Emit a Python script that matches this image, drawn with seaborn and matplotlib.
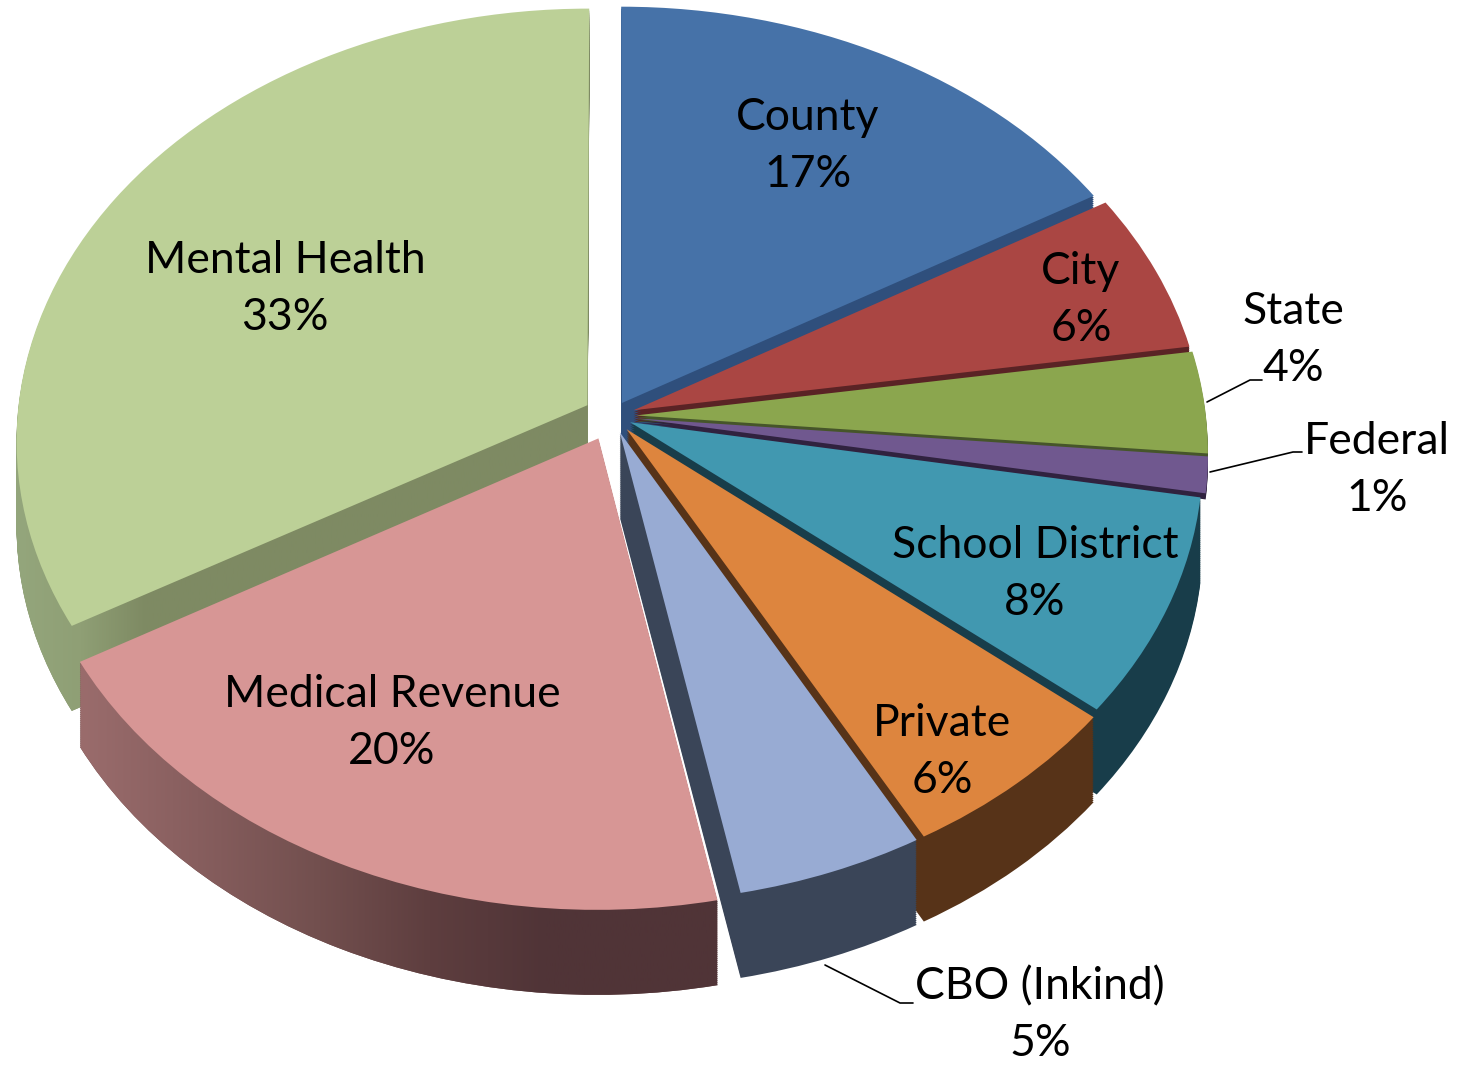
import numpy as np
import seaborn as sns
import matplotlib.pyplot as plt
from matplotlib.path import Path
from matplotlib.transforms import Affine2D, IdentityTransform, Transform

sources = ['County', 'City', 'State', 'Federal', 'School District', 'Private',
           'CBO (Inkind)', 'Medical Revenue', 'Mental Health']
percents = [17, 6, 4, 1, 8, 6, 5, 20, 33]
# slice sizes before rounding, estimated from the angles
slices = [16.6, 6.0, 3.8, 1.35, 8.15, 6.1, 4.9, 19.86, 33.24]
explode = [.035, .04, .042, .042, .035, .04, .04, .057, .05]
top_colors = ['#4672a8', '#aa4643', '#8ba64e', '#70588f', '#4198b0', '#dd853e',
              '#98abd3', '#d79695', '#bcd097']
side_colors = ['#2f4f7c', '#5a2325', '#46552a', '#30223f', '#183d4a', '#573318',
               '#3a4558', '#6a4848', '#7e8a63']
# back to front
draw_rank = [0, 1, 2, 3, 4, 6, 7, 8, 5]
wall_depth = [85, 14, 8, 8, 85, 85, 85, 85, 85]
label_xy = [(808, 146), (1081, 300), (1293, 340), (1377, 470), (1035, 574),
            (942, 752), (1040, 1015), (392, 723), (285, 289)]
leaders = {2: [(1207, 402), (1250, 380), (1262, 380)],
           3: [(1210, 472), (1293, 452), (1302, 452)],
           6: [(825, 965), (900, 1003), (913, 1003)]}
# walls with a left to right fade: slice index, x range, colours
fades = {7: ((80, 780), ['#9a6c6c', '#875e5e', '#73504f', '#5e3e3f', '#503437', '#503437', '#503437']),
         8: ((15, 600), ['#94a67c', '#8f9f75', '#7e8a63', '#7e8a63', '#7e8a63', '#7e8a63',
                         '#7e8a63', '#7e8a63', '#7e8a63', '#7e8a63'])}

W, H = 1463, 1066
cx, cy, rx, ry = 612, 416, 570, 430
tilt_k = .08


class Tilt(Transform):
    # crude perspective, near edge of the pie gets bigger
    input_dims = 2
    output_dims = 2

    def transform_non_affine(self, xy):
        xy = np.asarray(xy)
        return xy / (1 + tilt_k * xy[:, 1:2])


sns.set_theme(style='white')
plt.rcParams['font.family'] = ['Lato', 'DejaVu Sans']

fig, ax = plt.subplots(figsize=(W / 100, H / 100), dpi=100)
fig.subplots_adjust(0, 0, 1, 1)

layers = np.linspace(max(wall_depth), 0, 43)
walls = {i: [] for i in fades}
for n, d in enumerate(layers):
    colors = top_colors if d == 0 else side_colors
    wedges, _ = ax.pie(slices, colors=colors, explode=explode, startangle=90,
                       counterclock=False, wedgeprops={'linewidth': 0})
    place = Affine2D().scale(rx, -ry).translate(cx, cy + d)
    for i, w in enumerate(wedges):
        w.set_transform(Tilt() + place + ax.transData)
        w.set_zorder(draw_rank[i] + (.9 if d == 0 else n * .001))
        if d > wall_depth[i]:
            w.set_visible(False)
        if d > 0 and i in walls:
            walls[i].append(w)

ax.set_aspect('auto')
ax.set_xlim(0, W)
ax.set_ylim(H, 0)

images = []
for i, (xr, stops) in fades.items():
    shade = sns.blend_palette(stops, as_cmap=True)
    img = ax.imshow(np.linspace(0, 1, 256)[None, :], cmap=shade, aspect='auto',
                    extent=(xr[0], xr[1], H, 300), zorder=draw_rank[i] + .5)
    images.append((img, i))
ax.set_xlim(0, W)
ax.set_ylim(H, 0)
for img, i in images:
    wall = Path.make_compound_path(*[w.get_transform().transform_path(w.get_path()) for w in walls[i]])
    img.set_clip_path(wall, IdentityTransform())

for i, (name, pct) in enumerate(zip(sources, percents)):
    ax.text(*label_xy[i], f'{name}\n{pct}%', ha='center', va='center', fontsize=32,
            color='black', linespacing=1.48, zorder=20)
for pts in leaders.values():
    xs, ys = zip(*pts)
    ax.plot(xs, ys, color='black', lw=1.2, zorder=19)

fig.savefig('out.png', dpi=100)
